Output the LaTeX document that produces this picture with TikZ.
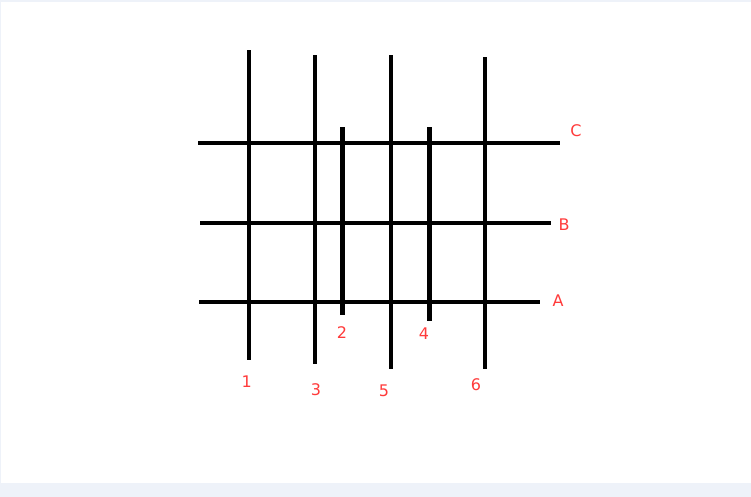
\documentclass[tikz,border=0pt]{standalone}
\usepackage{fontspec}
\setmainfont{DejaVu Sans}
\definecolor{labelred}{HTML}{FF3B3B}
\definecolor{framegray}{HTML}{EEF2F9}
\begin{document}
\begin{tikzpicture}[x=0.75pt,y=-0.75pt]

      \useasboundingbox (0,0) rectangle (751,497);
      \fill[framegray] (0,0) rectangle (751,497);
      \fill[white] (1.5,2) rectangle (751,483);

      % ends of the lines
      \coordinate (C1) at (198,143);
      \coordinate (C2) at (560,143);
      \coordinate (B1) at (200,223);
      \coordinate (B2) at (551,223);
      \coordinate (A1) at (199,302);
      \coordinate (A2) at (540,302);
      \coordinate (v1a) at (249,50);
      \coordinate (v1b) at (249,360);
      \coordinate (v3a) at (315,55);
      \coordinate (v3b) at (315,364);
      \coordinate (v5a) at (391,55);
      \coordinate (v5b) at (391,369);
      \coordinate (v6a) at (485,57);
      \coordinate (v6b) at (485,369);
      \coordinate (v2a) at (342.3,127);
      \coordinate (v2b) at (342.3,315);
      \coordinate (v4a) at (429.3,127);
      \coordinate (v4b) at (429.3,321);

      \begin{scope}[every path/.style={draw, line width=3pt}]
        \path (C1) -- (C2);
        \path (B1) -- (B2);
        \path (A1) -- (A2);
        \path (v1a) -- (v1b);
        \path (v3a) -- (v3b);
        \path (v5a) -- (v5b);
        \path (v6a) -- (v6b);
      \end{scope}

      \begin{scope}[every path/.style={draw, line width=3.75pt}]
        \path (v2a) -- (v2b);
        \path (v4a) -- (v4b);
      \end{scope}

      \begin{scope}[every node/.style={text=labelred, font=\fontsize{12}{14}\selectfont, inner sep=0pt}]
        \node (C) at (576,131) {C};
        \node (B) at (564,225) {B};
        \node (A) at (558,301) {A};
        \node (1) at (246.7,382) {1};
        \node (2) at (342,333) {2};
        \node (3) at (316,390) {3};
        \node (4) at (424,334) {4};
        \node (5) at (384,391) {5};
        \node (6) at (476,385) {6};
      \end{scope}

    \end{tikzpicture}
\end{document}
